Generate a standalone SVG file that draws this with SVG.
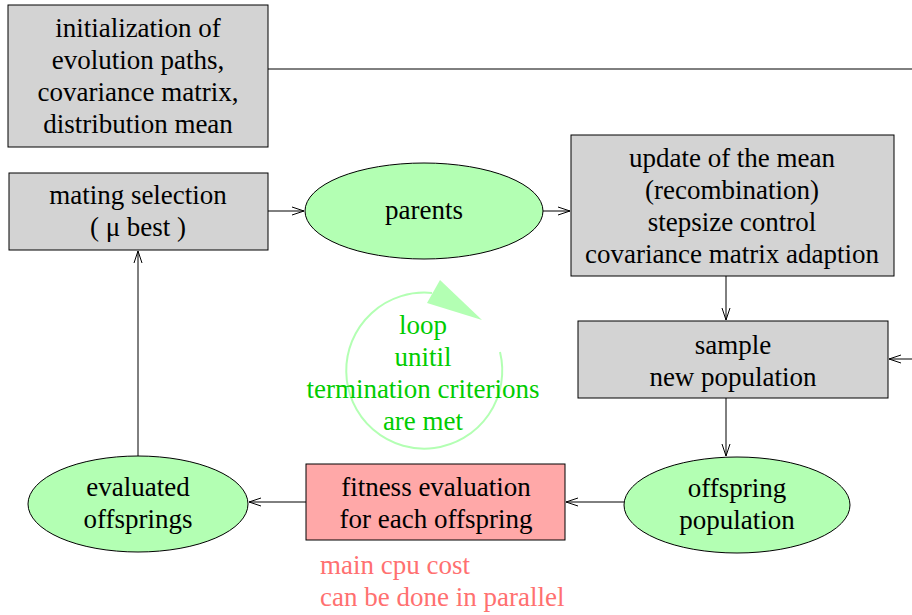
<svg xmlns="http://www.w3.org/2000/svg" width="912" height="615" viewBox="0 0 912 615">
<defs>
<marker id="ah" markerWidth="14" markerHeight="10" refX="13" refY="5" orient="auto" markerUnits="userSpaceOnUse">
<path d="M1,1 L13,5 L1,9" fill="none" stroke="#000" stroke-width="1"/>
</marker>
<style>
text{font-family:"Liberation Serif","Times New Roman",serif;font-size:27px;text-anchor:middle;fill:#000}
.box{fill:#d3d3d3;stroke:#000;stroke-width:1}
.ell{fill:#b3ffb3;stroke:#000;stroke-width:1}
.con{fill:none;stroke:#000;stroke-width:1;marker-end:url(#ah)}
.loop{fill:#00cc00}
.red{fill:#ff7070;text-anchor:start}
</style>
</defs>
<g id="connectors">
<line x1="268" y1="69" x2="912" y2="69" stroke="#000" stroke-width="1"/>
<line class="con" x1="268" y1="211" x2="304" y2="211"/>
<line class="con" x1="543" y1="211" x2="570" y2="211"/>
<line class="con" x1="726" y1="276" x2="726" y2="320"/>
<line class="con" x1="726" y1="398" x2="726" y2="456"/>
<line class="con" x1="624" y1="502" x2="566" y2="502"/>
<line class="con" x1="306" y1="502" x2="249" y2="502"/>
<line class="con" x1="138" y1="456" x2="138" y2="251"/>
<line class="con" x1="912" y1="359" x2="889" y2="359"/>
</g>
<g id="init">
<rect class="box" x="8" y="5" width="260" height="142"/>
<text x="138" y="37">initialization of</text>
<text x="138" y="69">evolution paths,</text>
<text x="138" y="101">covariance matrix,</text>
<text x="138" y="133">distribution mean</text>
</g>
<g id="mating">
<rect class="box" x="9" y="173" width="259" height="77"/>
<text x="138" y="204">mating selection</text>
<text x="138" y="236">( μ best )</text>
</g>
<g id="parents">
<ellipse class="ell" cx="424" cy="211" rx="119" ry="48"/>
<text x="424" y="219">parents</text>
</g>
<g id="update">
<rect class="box" x="571" y="135" width="323" height="141"/>
<text x="732" y="167">update of the mean</text>
<text x="732" y="199">(recombination)</text>
<text x="732" y="231">stepsize control</text>
<text x="732" y="263">covariance matrix adaption</text>
</g>
<g id="sample">
<rect class="box" x="578" y="321" width="310" height="77"/>
<text x="733" y="354">sample</text>
<text x="733" y="386">new population</text>
</g>
<g id="offspring">
<ellipse class="ell" cx="737" cy="505" rx="113" ry="48"/>
<text x="737" y="497">offspring</text>
<text x="737" y="529">population</text>
</g>
<g id="fitness">
<rect x="306" y="464" width="259" height="76" fill="#ffa8a8" stroke="#000" stroke-width="1"/>
<text x="436" y="496">fitness evaluation</text>
<text x="436" y="528">for each offspring</text>
</g>
<g id="evaluated">
<ellipse class="ell" cx="138" cy="504" rx="110" ry="48"/>
<text x="138" y="496">evaluated</text>
<text x="138" y="528">offsprings</text>
</g>
<g id="loop">
<path d="M500,352 A78,78 0 1 1 432,293" fill="none" stroke="#b3ffb3" stroke-width="2"/>
<polygon points="440,280 427,303 482,320" fill="#b3ffb3"/>
<text class="loop" x="423" y="334">loop</text>
<text class="loop" x="423" y="366">unitil</text>
<text class="loop" x="423" y="398">termination criterions</text>
<text class="loop" x="423" y="430">are met</text>
</g>
<g id="note">
<text class="red" x="320" y="574">main cpu cost</text>
<text class="red" x="320" y="606">can be done in parallel</text>
</g>
</svg>
